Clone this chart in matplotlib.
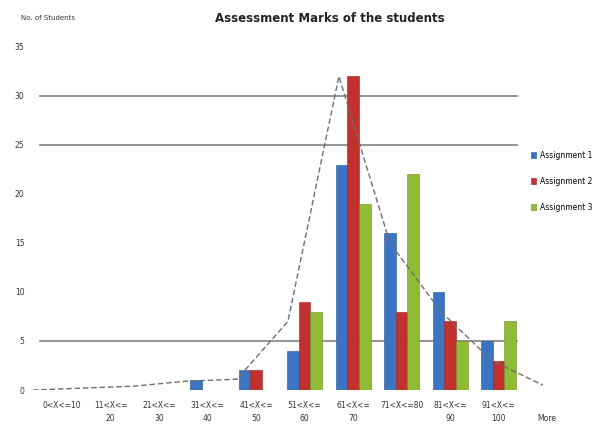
import numpy as np
import matplotlib.pyplot as plt

# marks ranges (x categories)
ranges = ["0<X<=10", "11<X<=\n20", "21<X<=\n30", "31<X<=\n40", "41<X<=\n50",
          "51<X<=\n60", "61<X<=\n70", "71<X<=80", "81<X<=\n90", "91<X<=\n100", "\nMore"]

# no. of students per range
asg1 = [0, 0, 0, 1, 2, 4, 23, 16, 10, 5, 0]
asg2 = [0, 0, 0, 0, 2, 9, 32, 8, 7, 3, 0]
asg3 = [0, 0, 0, 0, 0, 8, 19, 22, 5, 7, 0]
# dashed trend series (secondary category axis in the original)
trend = [0, 0.2, 0.4, 0.9, 1.1, 7, 32, 15, 8, 3, 0.5]

yticks = [0, 5, 10, 15, 20, 25, 30, 35]
gridvals = [5, 25, 30]

fig = plt.figure(figsize=(6.1, 4.3), dpi=100)
ax = fig.add_axes([0.054, 0.093, 0.882, 0.798])

x = np.arange(len(ranges))
bw = 0.24
ax.bar(x - bw, asg1, bw, color='#3b74c2', edgecolor='#2a5590', linewidth=0.4, label='Assignment 1', zorder=3)
ax.bar(x, asg2, bw, color='#c3312f', edgecolor='#8e2221', linewidth=0.4, label='Assignment 2', zorder=3)
ax.bar(x + bw, asg3, bw, color='#8fbb35', edgecolor='#6a8c25', linewidth=0.4, label='Assignment 3', zorder=3)

for g in gridvals:
    ax.axhline(g, xmin=0.013, xmax=0.9, color='#808080', linewidth=1.2, zorder=1)

ax.set_xlim(-0.6, 10.49)
ax.set_ylim(0, 35)
ax.set_xticks(x)
ax.set_xticklabels(ranges, fontsize=5.5, color='#333333', linespacing=1.6)
ax.set_yticks(yticks)
ax.set_yticklabels([str(v) for v in yticks], fontsize=5.5, color='#333333')
ax.tick_params(length=0, pad=8)
ax.tick_params(axis='y', pad=6)
for s in ax.spines.values():
    s.set_visible(False)

# trend line on its own category axis
ax2 = ax.twiny()
ax2.plot(np.arange(len(trend)), trend, color='#6f6f6f', linestyle=(0, (4, 2)), linewidth=1.0, zorder=4)
ax2.set_xlim(0, 10.55)
ax2.set_ylim(0, 35)
ax2.set_xticks([])
for s in ax2.spines.values():
    s.set_visible(False)

leg = ax.legend(loc='upper left', bbox_to_anchor=(0.86, 0.665), bbox_transform=fig.transFigure,
                frameon=False, fontsize=5.5, handlelength=0.6, handleheight=0.9,
                labelspacing=2.2, handletextpad=0.5)

fig.text(0.54, 0.958, "Assessment Marks of the students", ha='center', va='center',
         fontsize=8.5, fontweight='bold', color='#222222')
fig.text(0.035, 0.958, "No. of Students", ha='left', va='center', fontsize=5, color='#333333')

plt.savefig('out.png', dpi=100)
